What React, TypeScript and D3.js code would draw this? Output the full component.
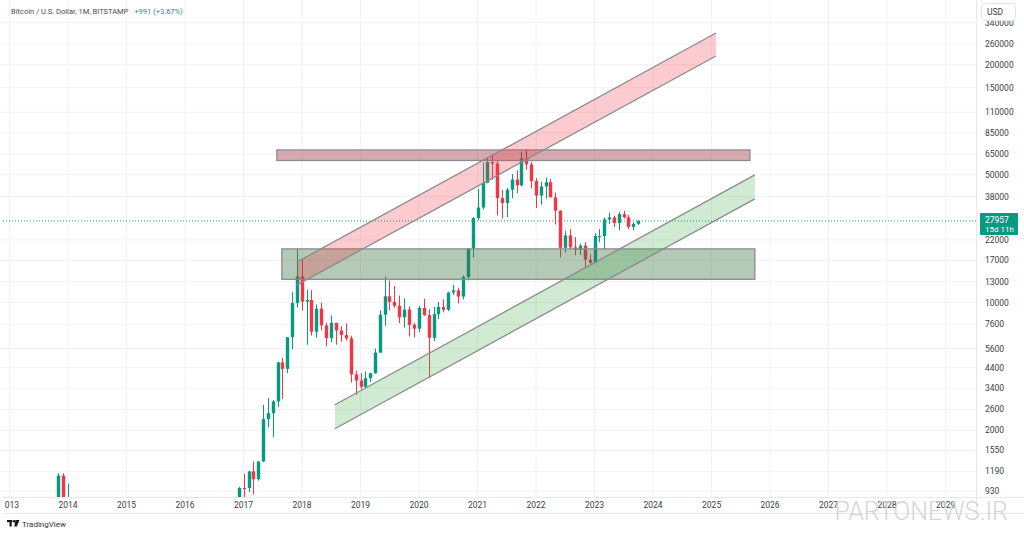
import { useEffect, useRef } from 'react';
import * as d3 from 'd3';

// monthly BTC/USD candles (Bitstamp), first candle = Oct 2013
const firstMonth = '2013-10-01';

const opens = [
  128, 204, 1129,
  754, 829, 573, 457, 448, 628, 640, 580, 478, 386, 338, 376,
  318, 218, 254, 244, 236, 230, 263, 284, 230, 236, 314, 377,
  430, 368, 436, 416, 448, 531, 670, 624, 574, 609, 698, 745,
  966, 965, 1190, 1079, 1348, 2300, 2480, 2875, 4703, 4338, 6458, 9947,
  13880, 10110, 10326, 6926, 9246, 7494, 6391, 7729, 7030, 6626, 6371, 4041,
  3742, 3457, 3854, 4103, 5320, 8574, 10817, 10085, 9600, 8300, 9150, 7546,
  7193, 9350, 8530, 6410, 8630, 9450, 9135, 11350, 11655, 10780, 13790, 19700,
  28980, 33100, 45200, 58800, 57700, 37300, 35040, 41460, 47100, 43800, 61300, 57000,
  46200, 38480, 43190, 45530, 37640, 31800, 19930, 23300, 20050, 19420, 20490, 17170,
  16540, 23130, 23150, 28480, 29250, 27220, 30470, 29230, 25940, 26966,
];

const highs = [
  211, 1163, 1163,
  1022, 850, 720, 547, 633, 680, 648, 600, 495, 415, 458, 383,
  320, 271, 300, 260, 247, 268, 316, 285, 245, 334, 500, 470,
  461, 445, 441, 468, 540, 778, 684, 627, 630, 720, 755, 980,
  1153, 1200, 1350, 1350, 2760, 2999, 2930, 4736, 4975, 6470, 11395, 19666,
  17176, 11789, 11680, 9759, 9990, 7770, 8507, 7760, 7410, 7680, 6585, 4236,
  4106, 4190, 4130, 5600, 9074, 13880, 13200, 12330, 10930, 10540, 9520, 7750,
  9590, 10500, 9180, 9460, 10070, 10430, 11450, 12480, 12060, 14100, 19900, 29300,
  41950, 58350, 61790, 64900, 59500, 41300, 42300, 50500, 52900, 67000, 69000, 59100,
  47990, 45800, 48240, 47460, 40000, 31960, 24670, 25200, 22800, 20990, 21460, 18380,
  23950, 25250, 29200, 31000, 29850, 31430, 31800, 30200, 27490, 28120,
];

const lows = [
  102, 203, 456,
  745, 400, 436, 340, 422, 545, 562, 445, 365, 274, 317, 304,
  152, 212, 235, 214, 226, 221, 252, 198, 223, 235, 306, 350,
  352, 365, 395, 412, 440, 526, 470, 535, 570, 603, 683, 744,
  751, 918, 890, 1061, 1340, 2076, 1830, 2671, 2972, 4110, 5555, 9380,
  9035, 5873, 6600, 6430, 7050, 5755, 6070, 5880, 6100, 6200, 3652, 3122,
  3349, 3394, 3670, 4077, 5280, 7450, 9070, 9360, 7710, 7300, 6515, 6430,
  6860, 8450, 3850, 6150, 8110, 8830, 8970, 10990, 9880, 10420, 13200, 17600,
  28200, 32300, 44950, 47000, 30000, 28800, 29300, 37300, 39600, 43300, 53300, 42000,
  32900, 34300, 37200, 37700, 26700, 17600, 18780, 19600, 18150, 18200, 15480, 16270,
  16500, 21400, 19570, 26940, 25880, 24800, 28860, 25200, 24900, 26570,
];

const closes = [
  204, 1129, 754,
  829, 573, 457, 448, 628, 640, 580, 478, 386, 338, 376, 318,
  218, 254, 244, 236, 230, 263, 284, 230, 236, 314, 377, 430,
  368, 436, 416, 448, 531, 670, 624, 574, 609, 698, 745, 966,
  965, 1190, 1079, 1348, 2300, 2480, 2875, 4703, 4338, 6458, 9947, 13880,
  10110, 10326, 6926, 9246, 7494, 6391, 7729, 7030, 6626, 6371, 4041, 3742,
  3457, 3854, 4103, 5320, 8574, 10817, 10085, 9600, 8300, 9150, 7546, 7193,
  9350, 8530, 6410, 8630, 9450, 9135, 11350, 11655, 10780, 13790, 19700, 28980,
  33100, 45200, 58800, 57700, 37300, 35040, 41460, 47100, 43800, 61300, 57000, 46200,
  38480, 43190, 45530, 37640, 31800, 19930, 23300, 20050, 19420, 20490, 17170, 16540,
  23130, 23150, 28480, 29250, 27220, 30470, 29230, 25940, 26966, 27957,
];

const lastPrice = 27957;
const priceTicks = [340000, 260000, 200000, 150000, 110000, 85000, 65000, 50000, 38000,
  22000, 17000, 13000, 10000, 7600, 5600, 4400, 3400, 2600, 2000, 1550, 1190, 930];
const yearTicks = [2013, 2014, 2015, 2016, 2017, 2018, 2019, 2020, 2021, 2022, 2023,
  2024, 2025, 2026, 2027, 2028, 2029];

// drawings: horizontal zones and rising channels (date, price)
const zones = [
  { from: '2017-07-28', to: '2025-08-28', top: 68400, bottom: 59900, fill: 'rgba(140,20,35,0.36)' },
  { from: '2017-08-28', to: '2025-09-28', top: 19660, bottom: 13400, fill: 'rgba(60,112,66,0.38)' },
];
const channels = [
  { from: '2017-12-01', to: '2025-01-28', upper: [16690, 298600], lower: [12500, 223500], fill: 'rgba(242,54,69,0.26)' },
  { from: '2018-07-25', to: '2025-09-28', upper: [2757, 49950], lower: [2038, 36920], fill: 'rgba(76,175,80,0.26)' },
];

const UP = '#089981';
const DOWN = '#F23645';
const FONT = "Roboto, 'DejaVu Sans', sans-serif";

export default function App() {
  const svgRef = useRef<SVGSVGElement>(null);

  useEffect(() => {
    if (!svgRef.current) return;
    const svg = d3.select(svgRef.current);
    svg.selectAll('*').remove();

    const plotRight = 976;
    const plotBottom = 497;

    const x = d3.scaleUtc()
      .domain([new Date('2014-01-01'), new Date('2024-01-01')])
      .range([68, 653]);
    const y = d3.scaleLog().domain([930, 260000]).range([491, 44]);

    svg.append('rect').attr('width', 1024).attr('height', 536).attr('fill', '#fff');

    svg.append('defs').append('clipPath').attr('id', 'plot')
      .append('rect').attr('x', 3).attr('y', 0).attr('width', plotRight - 3).attr('height', plotBottom);

    // grid
    const grid = svg.append('g');
    grid.selectAll('.vg').data(yearTicks).join('line')
      .attr('x1', d => x(new Date(Date.UTC(d, 0, 1)))).attr('x2', d => x(new Date(Date.UTC(d, 0, 1))))
      .attr('y1', 0).attr('y2', plotBottom)
      .attr('stroke', '#f0f1f4').attr('stroke-width', 1);
    grid.selectAll('.hg').data(priceTicks).join('line')
      .attr('x1', 0).attr('x2', plotRight)
      .attr('y1', d => y(d)).attr('y2', d => y(d))
      .attr('stroke', '#f0f1f4').attr('stroke-width', 1);

    const plot = svg.append('g').attr('clip-path', 'url(#plot)');

    // current price line
    plot.append('line')
      .attr('x1', 0).attr('x2', plotRight)
      .attr('y1', y(lastPrice)).attr('y2', y(lastPrice))
      .attr('stroke', UP).attr('stroke-dasharray', '1 2').attr('stroke-width', 1);

    // candles
    const start = new Date(firstMonth);
    const candles = opens.map((o, i) => ({
      date: d3.utcMonth.offset(start, i), o, h: highs[i], l: lows[i], c: closes[i],
    }));
    const bw = 3.4;
    const cg = plot.append('g');
    candles.forEach(d => {
      const cx = Math.round(x(d.date)) + 0.5;
      const col = d.c >= d.o ? UP : DOWN;
      cg.append('line')
        .attr('x1', cx).attr('x2', cx).attr('y1', y(d.h)).attr('y2', y(d.l))
        .attr('stroke', col).attr('stroke-width', 1);
      const top = y(Math.max(d.o, d.c));
      const bot = y(Math.min(d.o, d.c));
      cg.append('rect')
        .attr('x', cx - bw / 2).attr('y', top)
        .attr('width', bw).attr('height', Math.max(1, bot - top))
        .attr('fill', col);
    });

    // zones
    zones.forEach(z => {
      const x0 = x(new Date(z.from));
      const x1 = x(new Date(z.to));
      plot.append('rect')
        .attr('x', x0).attr('y', y(z.top))
        .attr('width', x1 - x0).attr('height', y(z.bottom) - y(z.top))
        .attr('fill', z.fill)
        .attr('stroke', '#8a8b90').attr('stroke-width', 1.3);
    });

    // channels
    channels.forEach(ch => {
      const x0 = x(new Date(ch.from));
      const x1 = x(new Date(ch.to));
      const pts: [number, number][] = [
        [x0, y(ch.upper[0])], [x1, y(ch.upper[1])],
        [x1, y(ch.lower[1])], [x0, y(ch.lower[0])],
      ];
      plot.append('path')
        .attr('d', 'M' + pts.map(p => p.join(',')).join('L') + 'Z')
        .attr('fill', ch.fill);
      plot.append('line')
        .attr('x1', pts[0][0]).attr('y1', pts[0][1]).attr('x2', pts[1][0]).attr('y2', pts[1][1])
        .attr('stroke', '#8a8b90').attr('stroke-width', 1.3);
      plot.append('line')
        .attr('x1', pts[3][0]).attr('y1', pts[3][1]).attr('x2', pts[2][0]).attr('y2', pts[2][1])
        .attr('stroke', '#8a8b90').attr('stroke-width', 1.3);
    });

    // frame lines
    svg.append('line').attr('x1', plotRight + 0.5).attr('x2', plotRight + 0.5).attr('y1', 0).attr('y2', 513)
      .attr('stroke', '#e6e8ee');
    svg.append('line').attr('x1', 3).attr('x2', 1024).attr('y1', plotBottom + 0.5).attr('y2', plotBottom + 0.5)
      .attr('stroke', '#e6e8ee');
    svg.append('line').attr('x1', 3).attr('x2', 1024).attr('y1', 513.5).attr('y2', 513.5)
      .attr('stroke', '#e6e8ee');

    // price axis
    svg.append('g').selectAll('text').data(priceTicks).join('text')
      .attr('x', 985).attr('y', d => y(d)).attr('dy', '0.35em')
      .attr('font-family', FONT).attr('font-size', 8.5).attr('fill', '#3a3d45')
      .text(d => String(d));

    svg.append('rect').attr('x', 981.5).attr('y', 3.5).attr('width', 34).attr('height', 17).attr('rx', 3)
      .attr('fill', '#fff').attr('stroke', '#e0e3eb');
    svg.append('text').attr('x', 987).attr('y', 15)
      .attr('font-family', FONT).attr('font-size', 8.5).attr('fill', '#3a3d45').text('USD');

    // last price label
    const ly = y(lastPrice);
    svg.append('rect').attr('x', 980).attr('y', ly - 8).attr('width', 38).attr('height', 22).attr('rx', 1)
      .attr('fill', UP);
    svg.append('text').attr('x', 985).attr('y', ly + 2)
      .attr('font-family', FONT).attr('font-size', 8.5).attr('fill', '#fff').text(String(lastPrice));
    svg.append('text').attr('x', 985).attr('y', ly + 11.5)
      .attr('font-family', FONT).attr('font-size', 8).attr('fill', '#fff').text('15d 11h');

    // time axis
    svg.append('defs').append('clipPath').attr('id', 'taxis')
      .append('rect').attr('x', 5).attr('y', 497).attr('width', 971).attr('height', 16);
    svg.append('g').attr('clip-path', 'url(#taxis)')
      .selectAll('text').data(yearTicks).join('text')
      .attr('x', d => x(new Date(Date.UTC(d, 0, 1)))).attr('y', 508)
      .attr('text-anchor', 'middle')
      .attr('font-family', FONT).attr('font-size', 8.5).attr('fill', '#3a3d45')
      .text(d => String(d));

    // header
    const header = svg.append('text').attr('x', 11).attr('y', 14)
      .attr('font-family', FONT).attr('font-size', 7.5);
    header.append('tspan').attr('fill', '#4a4d55').text('Bitcoin / U.S. Dollar, 1M, BITSTAMP');
    header.append('tspan').attr('fill', UP).attr('dx', 6).text('+991 (+3.67%)');

    // TradingView logo
    const logo = svg.append('g').attr('fill', '#131722');
    logo.append('rect').attr('x', 7).attr('y', 520).attr('width', 5.5).attr('height', 2.2);
    logo.append('rect').attr('x', 9.5).attr('y', 520).attr('width', 2.2).attr('height', 6.5);
    logo.append('circle').attr('cx', 14.2).attr('cy', 521.2).attr('r', 1.2);
    logo.append('path').attr('d', 'M15.5,520 L19.5,520 L16.8,526.5 L14.2,526.5 Z');
    svg.append('text').attr('x', 22).attr('y', 527)
      .attr('font-family', FONT).attr('font-size', 8).attr('fill', '#333').text('TradingView');

    // watermark
    svg.append('text').attr('x', 1008).attr('y', 520).attr('text-anchor', 'end')
      .attr('font-family', FONT).attr('font-size', 25).attr('font-weight', 300)
      .attr('fill', '#cfcfcf').attr('opacity', 0.85)
      .text('PARTONEWS.IR');
  }, []);

  return (
    <svg
      ref={svgRef}
      width={1024}
      height={536}
      style={{ position: 'fixed', left: 0, top: 0, display: 'block' }}
    />
  );
}
